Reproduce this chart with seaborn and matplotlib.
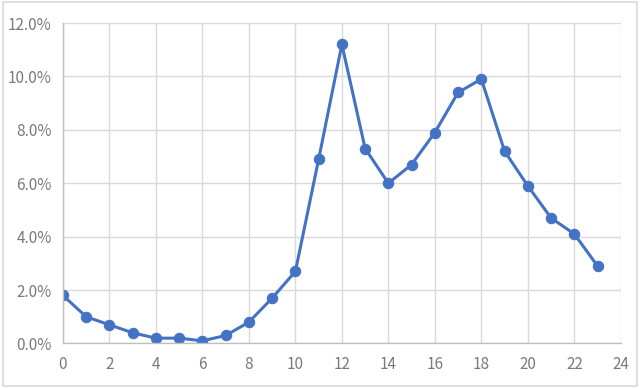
import matplotlib
matplotlib.use("Agg")
import matplotlib.pyplot as plt
import seaborn as sns
import pandas as pd
from matplotlib.ticker import FuncFormatter, MultipleLocator
from matplotlib.patches import Rectangle

hours = list(range(24))
share = [1.8, 1.0, 0.7, 0.4, 0.2, 0.2, 0.1, 0.3, 0.8, 1.7, 2.7, 6.9,
         11.2, 7.3, 6.0, 6.7, 7.9, 9.4, 9.9, 7.2, 5.9, 4.7, 4.1, 2.9]

df = pd.DataFrame({"hour": hours, "share": share})

sns.set_theme(style="white")
plt.rcParams['font.family'] = ['Noto Sans CJK SC', 'DejaVu Sans']

fig = plt.figure(figsize=(6.4, 3.88), dpi=100)
ax = fig.add_axes([0.0984, 0.1147, 0.8716, 0.826])

sns.lineplot(data=df, x="hour", y="share", ax=ax, color="#4472C4",
             linewidth=2.2, marker="o", markersize=7.5,
             markeredgecolor="#4472C4", markerfacecolor="#4472C4")

ax.set_xlim(0, 24)
ax.set_ylim(0, 12)
ax.xaxis.set_major_locator(MultipleLocator(2))
ax.yaxis.set_major_locator(MultipleLocator(2))
ax.yaxis.set_major_formatter(FuncFormatter(lambda v, p: f"{v:.1f}%"))
ax.grid(True, color="#D9D9D9", linewidth=1.0)
ax.set_axisbelow(True)
for s in ["top", "right"]:
    ax.spines[s].set_visible(False)
for s in ["left", "bottom"]:
    ax.spines[s].set_color("#BFBFBF")
    ax.spines[s].set_linewidth(1.0)
ax.tick_params(axis="both", length=0, labelsize=11, labelcolor="#7A7A7A")
ax.tick_params(axis="x", pad=9)
ax.tick_params(axis="y", pad=8)
ax.set_xlabel("")
ax.set_ylabel("")

fig.patches.append(Rectangle((0.004, 0.005), 0.992, 0.99, transform=fig.transFigure,
                             fill=False, edgecolor="#D9D9D9", linewidth=1.2))

fig.savefig("out.png", dpi=100)
